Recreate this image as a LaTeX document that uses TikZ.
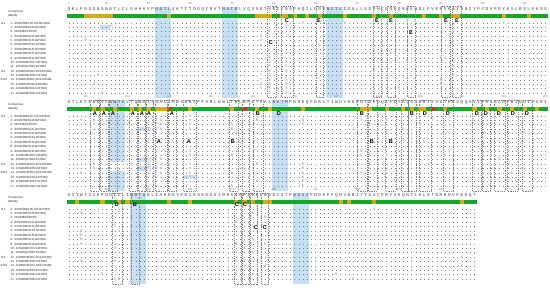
\documentclass[tikz,border=0pt]{standalone}
\usepackage{fontspec}
\setmainfont{Liberation Sans}
\newfontfamily\monof{Liberation Mono}
\definecolor{idgreen}{RGB}{20,168,40}
\definecolor{idyellow}{RGB}{210,172,20}
\definecolor{idred}{RGB}{220,40,40}
\definecolor{glyblue}{RGB}{198,223,246}
\newcount\seqi
\def\seqy{0}
\newcommand\PutOne[1]{\node[cons] at ({69+\the\seqi*4.18},\seqy) {#1};\global\advance\seqi by 1\relax}
\def\PutSeqX#1{\ifx#1\relax\else\PutOne{#1}\expandafter\PutSeqX\fi}
\newcommand\PutSeq[2]{\global\seqi=0\relax\def\seqy{#2}\PutSeqX#1\relax}
\begin{document}
\begin{tikzpicture}[x=1pt,y=-1pt,
  cons/.style={font=\monof\fontsize{4.4}{4.4}\selectfont, text=black!75, inner sep=0pt},
  subl/.style={font=\monof\fontsize{3.7}{3.7}\selectfont, text=black!55, fill=white, inner sep=0.1pt},
  nm/.style={font=\fontsize{3}{3}\selectfont, anchor=west, inner sep=0pt, text=black!85},
  num/.style={font=\fontsize{2.8}{2.8}\selectfont, text=black!55, inner sep=0pt},
  site/.style={font=\bfseries\fontsize{5.6}{5.6}\selectfont, inner sep=0pt},
  dotrow/.style={line width=0.6pt, black!50, dash pattern=on 0.6pt off 3.58pt},
  sitebox/.style={draw=black!50, dash pattern=on 1pt off 0.8pt, line width=0.25pt},
]
\fill[white] (0,0) rectangle (550,288);
\path[use as bounding box] (0,0) rectangle (550,288);

% ---------- glycosylation highlights ----------
\foreach \yz/\c in {23/21,23/37,23/62,116/49,209/15,209/54}
  \fill[glyblue] ({69+\c*4.18-2.09},{\yz-16}) rectangle ({69+(\c+3)*4.18+2.09},{\yz+75});
% block 2, site 126 (absent in rows 12-13)
\fill[glyblue] ({69+10*4.18-2.09},100) rectangle ({69+13*4.18+2.09},{116+10*4.375+2.2});
\fill[glyblue] ({69+10*4.18-2.09},{116+13*4.375-2.2}) rectangle ({69+13*4.18+2.09},191);
% single-sequence sites
\foreach \yz/\c/\r in {23/8/2,116/17/4,116/17/11,116/17/13,116/28/15}
  \fill[glyblue] ({69+\c*4.18-2.09},{\yz+(\r-1)*4.375-2.2}) rectangle ({69+(\c+2)*4.18+2.09},{\yz+(\r-1)*4.375+2.2});

% ---------- dot grids ----------
\foreach \yz/\n in {23/114,116/114,209/97}
  \foreach \r in {0,...,16}
    \draw[dotrow] ({69-0.3},{\yz+\r*4.375}) -- ({69+\n*4.18+0.3},{\yz+\r*4.375});

% ---------- identity bars ----------
\foreach \yz/\n in {23/114,116/114,209/97}
  \fill[idgreen] ({69-2.09},{\yz-9}) rectangle ({69+\n*4.18+2.09},{\yz-5});
\foreach \c in {4,5,6,7,8,9,10,24,45,46,47,48,51,52,54,57,60,66,73,77,85,89,92,93,104,110}
  \fill[idyellow] ({69+\c*4.18-2.09},14) rectangle ({69+\c*4.18+2.09},18);
\foreach \c in {6,8,11,15,17,19,21,22,23,29,39,45,48,56,70,71,72,76,80,82,84,85,90,97,100,103,106,109,112}
  \fill[idyellow] ({69+\c*4.18-2.09},107) rectangle ({69+\c*4.18+2.09},111);
\foreach \c in {24,42,87}
  \fill[idred] ({69+\c*4.18-2.09},107) rectangle ({69+\c*4.18+2.09},111);
\foreach \c in {2,8,12,14,24,29,40,42,44,47,48,65,67,73,94}
  \fill[idyellow] ({69+\c*4.18-2.09},200) rectangle ({69+\c*4.18+2.09},204);

% ---------- consensus sequences ----------
\PutSeq{QKLPGSDNSNATLCLGHHAVPNGTLVKTITDDQIEVTNATELVQSSSTGRICNSPHQILDGKNCTLIDALLGDPHCDGFQNEKWDLFVERSKAYSNCYPYDVPDYASLRSLVASS}{9.5}
\PutSeq{GTLEFNNESFNWTGVTQNGTSSACIRRSNNSFFSRLNWLTHLNFKYPALNVTMPNNEQFDKLYIWGVHHPGTDKDQIFLYAQSSGRITVSTKRSQQAVIPNIGSRPRIRDIPSRI}{102.5}
\PutSeq{SIYWTIVKPGDILLINSTGNLIAPRGYFKIRSGKSSIMRSDAPIGKCNSECITPNGSIPNDKPFQNVNRITYGACPRYVKQNTLKLATGMRNVPEKQT}{195.5}

% ---------- position rulers ----------
\node[num] (n1) at (69,4) {1};
\foreach \p in {10,20,...,110}
  \node[num] at ({69+(\p-1)*4.18},4) {\p};
\foreach \p in {120,130,...,230}
  \node[num] at ({69+(\p-116)*4.18},97) {\p};
\foreach \p in {240,250,...,320}
  \node[num] at ({69+(\p-231)*4.18},190) {\p};

% ---------- left labels ----------
\foreach \yz in {23,116,209}{
  \node[nm] at (8,{\yz-11.5}) {Consensus};
  \node[nm] at (8,{\yz-7}) {Identity};
  \node[nm] at (1,{\yz}) {G1};
  \node[nm] at (1,{\yz+11*4.375}) {G2};
  \node[nm] at (0.5,{\yz+13*4.375}) {G3/4};
  \foreach \t [count=\k from 0] in {1. A/SW/ON/135-55/12/H3N2, 2. A/SW/ON/S10/14/H3N2, 3. ON/33853/05/H3,
     4. A/SW/ON/S21/14/H3N2, 5. A/SW/ON/S13/14/H3N2, 6. A/SW/ON/S11/14/H3N2, 7. A/SW/ON/S16/14/H3N2,
     8. A/SW/ON/S12/14/H3N2, 9. A/SW/ON/S14/14/H3N2, 10. A/SW/AB/S07/14/H3N2, 11. A/SW/QC/S8/14/H3N2,
     12. A/SW/ON/104-25/12/H3N2, 13. A/SW/AB/S05/14/H3N2, 14. A/SW/ON/102-18/11/H3N2,
     15. A/SW/ON/S15/14/H3N2, 16. A/SW/AB/S01/14/H3N2, 17. A/SW/AB/S06/14/H3N2}
    \node[nm] at (10.5,{\yz+\k*4.375}) {\t};
}

% ---------- antigenic site boxes ----------
\foreach \a/\b in {267/276,281/293,316/323,373/381,387/395,407/415,441/450,452/461}
  \draw[sitebox] (\a,6.5) rectangle (\b,97.5);
\foreach \a/\b in {90/99,100/108,109/117,129/137,138/145,146/153,155/167,168/176,183/196,229/238,242/249,253/263,357/367,368/377,385/396,401/408,408/416,419/431,443/453,472/481,482/490,494/505,507/518,522/532}
  \draw[sitebox] (\a,100) rectangle (\b,191);
\foreach \a/\b in {112/122,131/139,234/241,242/249,250/257,261/268}
  \draw[sitebox] (\a,193) rectangle (\b,284);

% ---------- substitutions ----------
\foreach \c/\r/\L in {4/5/R,5/6/G,10/5/V,7/13/D,6/15/G,8/17/N,10/2/T,27/6/K,26/17/K,46/4/A,46/5/S,46/6/A,46/13/T,46/14/T,46/15/A,46/16/T,
   48/3/K,48/9/R,48/10/R,48/11/R,48/12/K,48/13/R,48/14/R,48/15/R,48/16/K,48/17/R,52/2/V,52/10/S,52/11/S,52/12/G,52/14/S,52/15/S,52/16/S,52/17/S,
   56/1/V,66/1/V,73/4/K,73/12/K,77/8/E,79/16/K,86/10/Y,89/9/N,89/14/N,89/15/N,92/10/N,92/11/N,92/13/K,104/1/Y,60/6/G}
  \node[subl] at ({69+\c*4.18},{23+(\r-1)*4.375}) {\L};
\foreach \c/\r/\L in {3/2/K,3/14/K,6/2/N,6/3/D,6/12/N,6/13/D,8/2/S,8/12/S,15/12/N,19/4/S,19/11/S,19/13/S,
   21/2/T,21/3/T,21/4/T,22/2/A,22/3/A,22/4/A,21/11/T,21/12/T,21/13/T,21/14/T,22/11/A,22/12/A,22/13/A,22/14/A,
   24/12/R,29/1/V,29/2/V,29/3/V,29/4/V,29/9/V,29/10/V,29/12/V,29/13/V,29/14/V,29/15/V,
   39/3/S,39/4/N,39/10/S,39/14/N,39/17/S,45/2/R,45/12/R,45/16/K,56/2/Q,56/3/K,56/12/K,56/13/K,56/14/K,56/15/K,56/16/E,56/17/E,
   70/2/S,70/9/N,70/10/N,70/14/S,71/5/G,72/3/K,72/10/K,72/12/K,76/2/S,76/10/S,76/14/N,80/4/R,80/12/K,84/3/K,85/7/V,87/2/T,
   90/10/K,97/13/I,99/6/V,103/11/K,106/14/R,109/5/R}
  \node[subl] at ({69+\c*4.18},{116+(\r-1)*4.375}) {\L};
\foreach \c/\r/\L in {3/2/H,7/2/T,3/6/H,3/7/H,3/8/H,3/9/H,3/13/H,8/16/Q,11/5/V,11/10/V,11/13/V,11/17/V,12/2/T,12/17/M,
   31/6/R,26/13/R,33/13/R,29/17/K,32/17/K,40/4/N,40/9/N,40/13/S,40/16/N,42/6/S,42/10/N,42/14/S,
   44/2/K,44/8/K,44/11/K,44/16/K,47/3/R,47/9/R,47/14/R,73/1/V,64/16/R,68/17/K,94/12/K,94/14/K}
  \node[subl] at ({69+\c*4.18},{209+(\r-1)*4.375}) {\L};

% ---------- antigenic site letters ----------
\foreach \x/\y/\L in {271/43/C,287/21/C,319/21/E,377/21/E,391/21/E,411/33/E,446/21/E,457/21/E,
   95/113.5/A,104/113.5/A,113/113.5/A,133/113.5/A,142/113.5/A,149/113.5/A,172/113.5/A,258/113.5/B,279/113.5/D,
   362/113.5/B,412/113.5/B,425/113.5/D,448/113.5/D,477/113.5/D,486/113.5/D,499/113.5/D,513/113.5/D,527/113.5/D,
   159/142/A,189/142/A,233/142/B,372/142/B,391/142/B,
   117/205/D,135/205/B,237/205/C,245/205/C,256/228/C,265/228/C}
  \node[site] at (\x,\y) {\L};
\end{tikzpicture}
\end{document}
